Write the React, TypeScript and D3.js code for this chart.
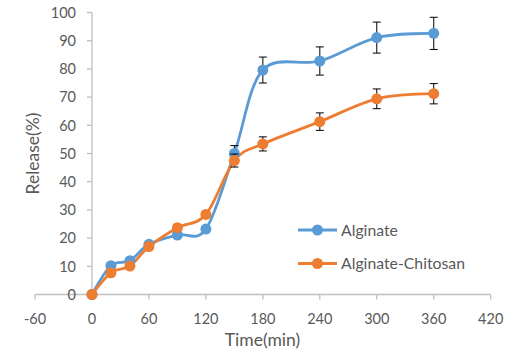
import React from "react";
import * as d3 from "d3";

const times = [0, 20, 40, 60, 90, 120, 150, 180, 240, 300, 360];
const alginate = [0, 10.2, 12.0, 17.8, 21.1, 23.2, 50.0, 79.6, 82.8, 91.1, 92.6];
const alginateErr = [0, 0, 0, 0, 0, 0, 2.8, 4.6, 5.0, 5.5, 5.7];
const chitosan = [0, 7.7, 10.1, 17.0, 23.7, 28.4, 47.5, 53.4, 61.3, 69.4, 71.2];
const chitosanErr = [0, 0, 0, 0, 0, 0, 2.3, 2.5, 3.1, 3.5, 3.6];
const xTicks = [-60, 0, 60, 120, 180, 240, 300, 360, 420];
const yTicks = [0, 10, 20, 30, 40, 50, 60, 70, 80, 90, 100];
const seriesNames = ["Alginate", "Alginate-Chitosan"];
const colors = ["#5B9BD5", "#ED7D31"];

const W = 528;
const H = 355;
const FONT = "Lato, 'Open Sans', sans-serif";

export default function App() {
  const x = d3.scaleLinear().domain([-60, 420]).range([35, 490.7]);
  const y = d3.scaleLinear().domain([0, 100]).range([294.5, 12.5]);
  const line = d3
    .line<number>()
    .x((_, i) => x(times[i]))
    .y((d) => y(d))
    .curve(d3.curveCatmullRom.alpha(0));
  const series = [
    { vals: alginate, err: alginateErr },
    { vals: chitosan, err: chitosanErr },
  ];
  const axisColor = "#BFBFBF";
  const textColor = "#595959";
  return (
    <svg
      width={W}
      height={H}
      style={{ position: "absolute", left: 0, top: 0, background: "#fff" }}
    >
      <rect width={W} height={H} fill="#fff" />
      {/* axes */}
      <line x1={x(0)} x2={x(0)} y1={y(100)} y2={y(0)} stroke={axisColor} strokeWidth={1.3} />
      <line x1={x(-60)} x2={x(420)} y1={y(0)} y2={y(0)} stroke={axisColor} strokeWidth={1.3} />
      {yTicks.map((t) => (
        <g key={"y" + t}>
          <line x1={x(0) - 5} x2={x(0)} y1={y(t)} y2={y(t)} stroke={axisColor} strokeWidth={1.3} />
          <text
            x={76}
            y={y(t)}
            dy="0.36em"
            textAnchor="end"
            fontFamily={FONT}
            fontSize={14.5}
            fill={textColor}
          >
            {t}
          </text>
        </g>
      ))}
      {xTicks.map((t) => (
        <g key={"x" + t}>
          <line x1={x(t)} x2={x(t)} y1={y(0)} y2={y(0) + 5} stroke={axisColor} strokeWidth={1.3} />
          <text
            x={x(t)}
            y={323.5}
            textAnchor="middle"
            fontFamily={FONT}
            fontSize={14.5}
            fill={textColor}
          >
            {t}
          </text>
        </g>
      ))}
      <text
        x={262.5}
        y={345.5}
        textAnchor="middle"
        fontFamily={FONT}
        fontSize={17.5}
        fill={textColor}
      >
        Time(min)
      </text>
      <text
        transform={`translate(38.5,153.5) rotate(-90)`}
        textAnchor="middle"
        fontFamily={FONT}
        fontSize={17.5}
        fill={textColor}
      >
        Release(%)
      </text>
      {/* series */}
      {series.map((s, si) => (
        <g key={"s" + si}>
          <path d={line(s.vals) || ""} fill="none" stroke={colors[si]} strokeWidth={2.8} />
        </g>
      ))}
      {series.map((s, si) => (
        <g key={"e" + si}>
          {s.vals.map((v, i) =>
            s.err[i] > 0 ? (
              <g key={i} stroke="#000" strokeWidth={1}>
                <line x1={x(times[i])} x2={x(times[i])} y1={y(v + s.err[i])} y2={y(v - s.err[i])} />
                <line x1={x(times[i]) - 4} x2={x(times[i]) + 4} y1={y(v + s.err[i])} y2={y(v + s.err[i])} />
                <line x1={x(times[i]) - 4} x2={x(times[i]) + 4} y1={y(v - s.err[i])} y2={y(v - s.err[i])} />
              </g>
            ) : null
          )}
          {s.vals.map((v, i) => (
            <circle key={"c" + i} cx={x(times[i])} cy={y(v)} r={5.5} fill={colors[si]} />
          ))}
        </g>
      ))}
      {/* legend */}
      {seriesNames.map((n, i) => {
        const ly = 230 + i * 33.5;
        return (
          <g key={"l" + i}>
            <line x1={298} x2={337} y1={ly} y2={ly} stroke={colors[i]} strokeWidth={2.8} />
            <circle cx={317.5} cy={ly} r={5.5} fill={colors[i]} />
            <text
              x={341}
              y={ly}
              dy="0.36em"
              fontFamily={FONT}
              fontSize={15.8}
              fill={textColor}
            >
              {n}
            </text>
          </g>
        );
      })}
    </svg>
  );
}
